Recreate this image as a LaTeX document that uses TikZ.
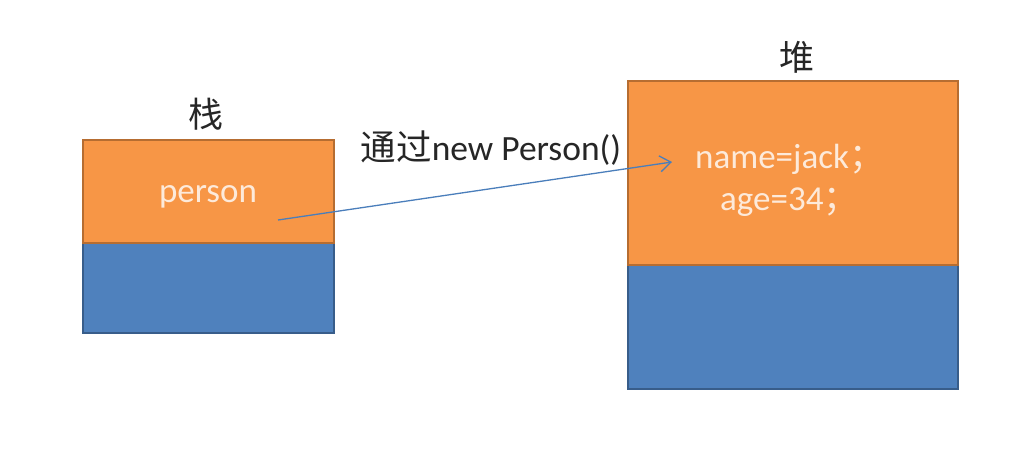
\documentclass[tikz,border=0pt]{standalone}
\usepackage{fontspec}
\setmainfont{Carlito}
\newfontfamily\cjk{Noto Sans CJK SC}
\usetikzlibrary{arrows.meta}
\definecolor{orfill}{HTML}{F79646}
\definecolor{ordraw}{HTML}{B66D31}
\definecolor{blfill}{HTML}{4F81BD}
\definecolor{bldraw}{HTML}{385D8A}
\definecolor{arrowc}{HTML}{4A7EBB}
\definecolor{lighttxt}{HTML}{FDEADA}
\definecolor{darktxt}{HTML}{262626}
\tikzset{
  orbox/.style={draw=ordraw, fill=orfill, line width=2.2pt, inner sep=0pt, minimum width=#1},
  blbox/.style={draw=bldraw, fill=blfill, line width=2.2pt, inner sep=0pt, minimum width=#1},
  intext/.style={text=lighttxt, font=\fontsize{35}{40}\selectfont, inner sep=0pt},
  lbl/.style={text=darktxt, font=\fontsize{35}{40}\selectfont, inner sep=0pt},
  ptr/.style={draw=arrowc, line width=1.3pt, -{Straight Barb[length=11pt,width=16pt,line width=1.3pt]}}
}
\begin{document}
\begin{tikzpicture}[x=1pt,y=-1pt]
\useasboundingbox (0,0) rectangle (1023,451);
\fill[white] (0,0) rectangle (1023,451);
% stack
\node[blbox=251pt, minimum height=90pt] (sblue) at (208.5,288) {};
\node[orbox=251pt, minimum height=103pt] (sorange) at (208.5,191.5) {};
\node[intext] (person) at (208,197) {person};
\node[lbl] (stacklbl) at (206,114) {\cjk 栈};
% heap
\node[blbox=330pt, minimum height=124pt] (hblue) at (793,327) {};
\node[orbox=330pt, minimum height=184pt] (horange) at (793,173) {};
\node[intext, anchor=west] (name) at (695,159) {name=jack\cjk ；};
\node[intext, anchor=west] (age) at (720,202) {age=34\cjk ；};
\node[lbl] (heaplbl) at (797,57) {\cjk 堆};
% arrow
\coordinate (from) at (278,220);
\coordinate (to) at (672,162);
\draw[ptr] (from) -- (to);
\node[lbl, font=\fontsize{35.5}{40}\selectfont] (newlbl) at (491,148) {{\cjk 通过}new Person()};
\end{tikzpicture}
\end{document}
